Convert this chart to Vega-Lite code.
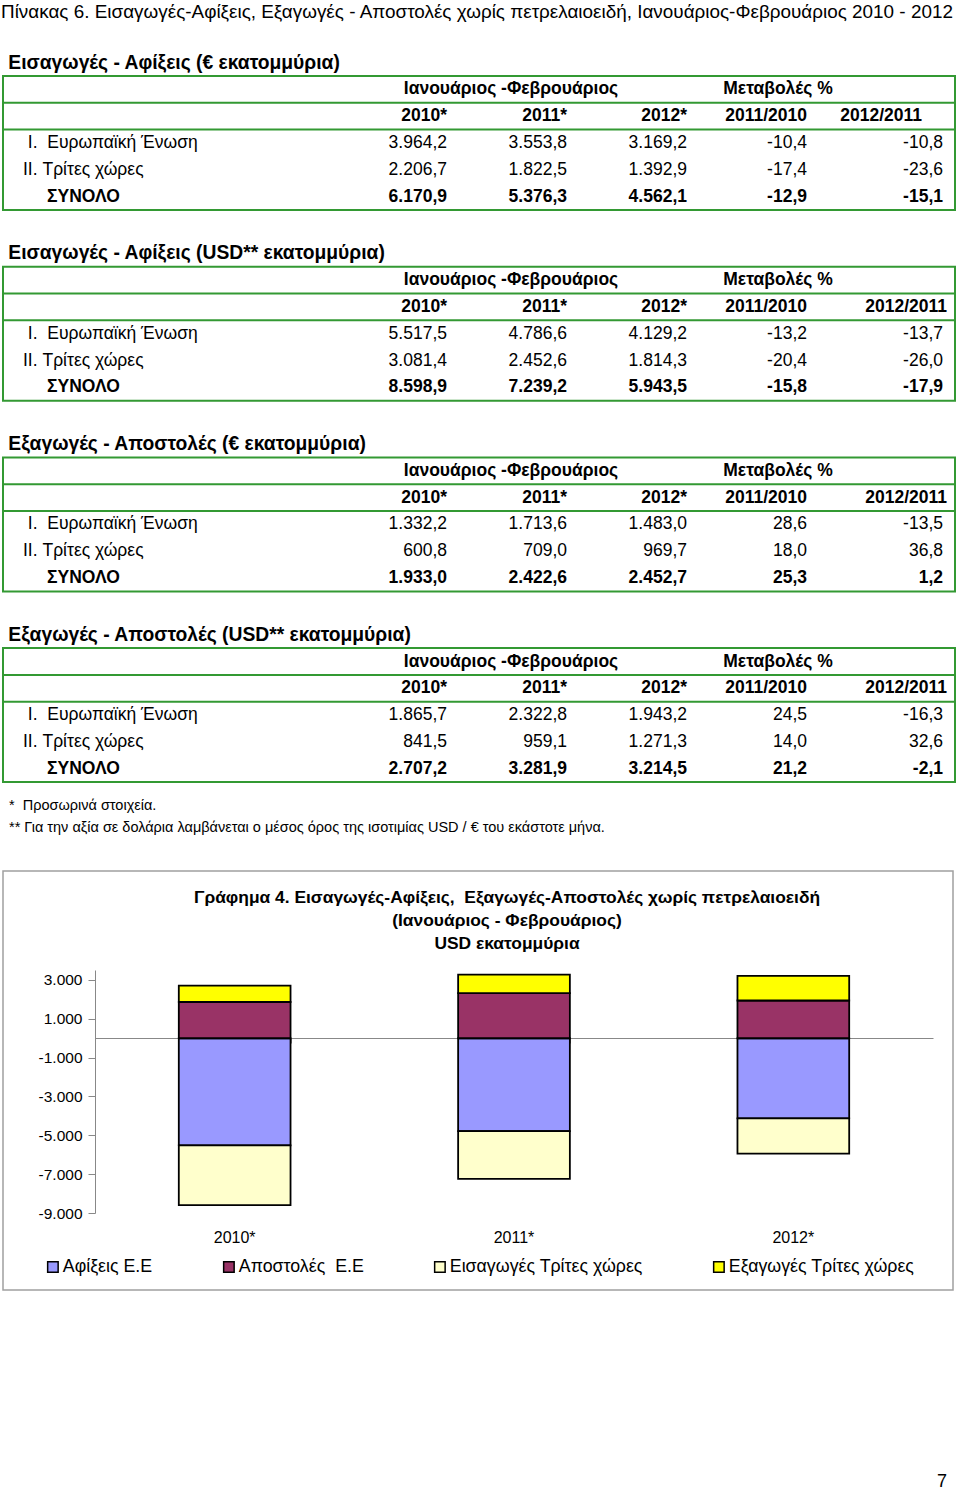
{
  "$schema": "https://vega.github.io/schema/vega-lite/v6.json",
  "padding": {"left": 1, "top": 2, "right": 0, "bottom": 0},
  "background": "white",
  "title": {"text": "Πίνακας 6. Εισαγωγές-Αφίξεις, Εξαγωγές - Αποστολές χωρίς πετρελαιοειδή, Ιανουάριος-Φεβρουάριος 2010 - 2012", "anchor": "start", "fontSize": 18.9, "fontWeight": "normal", "font": "Liberation Sans", "color": "black", "offset": 31},
  "datasets": {
    "tbl": [
      {"s": "\u200b\u00a0Εισαγωγές - Αφίξεις (€ εκατομμύρια)", "k": "rule", "r": "h2"},
      {"s": "\u200b\u00a0Εισαγωγές - Αφίξεις (€ εκατομμύρια)", "k": "rule", "r": "eu"},
      {"s": "\u200b\u00a0Εισαγωγές - Αφίξεις (€ εκατομμύρια)", "k": "h1", "r": "h1", "c": "c2011", "txt": "Ιανουάριος -Φεβρουάριος"},
      {"s": "\u200b\u00a0Εισαγωγές - Αφίξεις (€ εκατομμύρια)", "k": "h1", "r": "h1", "c": "ch1", "txt": "Μεταβολές %"},
      {"s": "\u200b\u00a0Εισαγωγές - Αφίξεις (€ εκατομμύρια)", "k": "h2", "r": "h2", "c": "c2010", "txt": "2010*"},
      {"s": "\u200b\u00a0Εισαγωγές - Αφίξεις (€ εκατομμύρια)", "k": "h2", "r": "h2", "c": "c2011", "txt": "2011*"},
      {"s": "\u200b\u00a0Εισαγωγές - Αφίξεις (€ εκατομμύρια)", "k": "h2", "r": "h2", "c": "c2012", "txt": "2012*"},
      {"s": "\u200b\u00a0Εισαγωγές - Αφίξεις (€ εκατομμύρια)", "k": "h2", "r": "h2", "c": "ch1", "txt": "2011/2010"},
      {"s": "\u200b\u00a0Εισαγωγές - Αφίξεις (€ εκατομμύρια)", "k": "h2", "r": "h2", "c": "ch2", "txt": "2012/2011"},
      {"s": "\u200b\u00a0Εισαγωγές - Αφίξεις (€ εκατομμύρια)", "k": "lab", "r": "eu", "txt": "\u200b\u00a0I.\u00a0 Ευρωπαϊκή Ένωση"},
      {"s": "\u200b\u00a0Εισαγωγές - Αφίξεις (€ εκατομμύρια)", "k": "lab", "r": "tc", "txt": "II. Τρίτες χώρες"},
      {"s": "\u200b\u00a0Εισαγωγές - Αφίξεις (€ εκατομμύρια)", "k": "lab", "r": "tot", "txt": "ΣΥΝΟΛΟ"},
      {"s": "\u200b\u00a0Εισαγωγές - Αφίξεις (€ εκατομμύρια)", "k": "v", "r": "eu", "c": "c2010", "v": 3964.2},
      {"s": "\u200b\u00a0Εισαγωγές - Αφίξεις (€ εκατομμύρια)", "k": "v", "r": "eu", "c": "c2011", "v": 3553.8},
      {"s": "\u200b\u00a0Εισαγωγές - Αφίξεις (€ εκατομμύρια)", "k": "v", "r": "eu", "c": "c2012", "v": 3169.2},
      {"s": "\u200b\u00a0Εισαγωγές - Αφίξεις (€ εκατομμύρια)", "k": "v", "r": "eu", "c": "ch1", "v": -10.4},
      {"s": "\u200b\u00a0Εισαγωγές - Αφίξεις (€ εκατομμύρια)", "k": "v", "r": "eu", "c": "ch2", "v": -10.8},
      {"s": "\u200b\u00a0Εισαγωγές - Αφίξεις (€ εκατομμύρια)", "k": "v", "r": "tc", "c": "c2010", "v": 2206.7},
      {"s": "\u200b\u00a0Εισαγωγές - Αφίξεις (€ εκατομμύρια)", "k": "v", "r": "tc", "c": "c2011", "v": 1822.5},
      {"s": "\u200b\u00a0Εισαγωγές - Αφίξεις (€ εκατομμύρια)", "k": "v", "r": "tc", "c": "c2012", "v": 1392.9},
      {"s": "\u200b\u00a0Εισαγωγές - Αφίξεις (€ εκατομμύρια)", "k": "v", "r": "tc", "c": "ch1", "v": -17.4},
      {"s": "\u200b\u00a0Εισαγωγές - Αφίξεις (€ εκατομμύρια)", "k": "v", "r": "tc", "c": "ch2", "v": -23.6},
      {"s": "\u200b\u00a0Εισαγωγές - Αφίξεις (€ εκατομμύρια)", "k": "v", "r": "tot", "c": "c2010", "v": 6170.9},
      {"s": "\u200b\u00a0Εισαγωγές - Αφίξεις (€ εκατομμύρια)", "k": "v", "r": "tot", "c": "c2011", "v": 5376.3},
      {"s": "\u200b\u00a0Εισαγωγές - Αφίξεις (€ εκατομμύρια)", "k": "v", "r": "tot", "c": "c2012", "v": 4562.1},
      {"s": "\u200b\u00a0Εισαγωγές - Αφίξεις (€ εκατομμύρια)", "k": "v", "r": "tot", "c": "ch1", "v": -12.9},
      {"s": "\u200b\u00a0Εισαγωγές - Αφίξεις (€ εκατομμύρια)", "k": "v", "r": "tot", "c": "ch2", "v": -15.1},

      {"s": "\u200b\u00a0Εισαγωγές - Αφίξεις (USD** εκατομμύρια)", "k": "rule", "r": "h2"},
      {"s": "\u200b\u00a0Εισαγωγές - Αφίξεις (USD** εκατομμύρια)", "k": "rule", "r": "eu"},
      {"s": "\u200b\u00a0Εισαγωγές - Αφίξεις (USD** εκατομμύρια)", "k": "h1", "r": "h1", "c": "c2011", "txt": "Ιανουάριος -Φεβρουάριος"},
      {"s": "\u200b\u00a0Εισαγωγές - Αφίξεις (USD** εκατομμύρια)", "k": "h1", "r": "h1", "c": "ch1", "txt": "Μεταβολές %"},
      {"s": "\u200b\u00a0Εισαγωγές - Αφίξεις (USD** εκατομμύρια)", "k": "h2", "r": "h2", "c": "c2010", "txt": "2010*"},
      {"s": "\u200b\u00a0Εισαγωγές - Αφίξεις (USD** εκατομμύρια)", "k": "h2", "r": "h2", "c": "c2011", "txt": "2011*"},
      {"s": "\u200b\u00a0Εισαγωγές - Αφίξεις (USD** εκατομμύρια)", "k": "h2", "r": "h2", "c": "c2012", "txt": "2012*"},
      {"s": "\u200b\u00a0Εισαγωγές - Αφίξεις (USD** εκατομμύρια)", "k": "h2", "r": "h2", "c": "ch1", "txt": "2011/2010"},
      {"s": "\u200b\u00a0Εισαγωγές - Αφίξεις (USD** εκατομμύρια)", "k": "h2", "r": "h2", "c": "ch2", "txt": "2012/2011"},
      {"s": "\u200b\u00a0Εισαγωγές - Αφίξεις (USD** εκατομμύρια)", "k": "lab", "r": "eu", "txt": "\u200b\u00a0I.\u00a0 Ευρωπαϊκή Ένωση"},
      {"s": "\u200b\u00a0Εισαγωγές - Αφίξεις (USD** εκατομμύρια)", "k": "lab", "r": "tc", "txt": "II. Τρίτες χώρες"},
      {"s": "\u200b\u00a0Εισαγωγές - Αφίξεις (USD** εκατομμύρια)", "k": "lab", "r": "tot", "txt": "ΣΥΝΟΛΟ"},
      {"s": "\u200b\u00a0Εισαγωγές - Αφίξεις (USD** εκατομμύρια)", "k": "v", "r": "eu", "c": "c2010", "v": 5517.5},
      {"s": "\u200b\u00a0Εισαγωγές - Αφίξεις (USD** εκατομμύρια)", "k": "v", "r": "eu", "c": "c2011", "v": 4786.6},
      {"s": "\u200b\u00a0Εισαγωγές - Αφίξεις (USD** εκατομμύρια)", "k": "v", "r": "eu", "c": "c2012", "v": 4129.2},
      {"s": "\u200b\u00a0Εισαγωγές - Αφίξεις (USD** εκατομμύρια)", "k": "v", "r": "eu", "c": "ch1", "v": -13.2},
      {"s": "\u200b\u00a0Εισαγωγές - Αφίξεις (USD** εκατομμύρια)", "k": "v", "r": "eu", "c": "ch2", "v": -13.7},
      {"s": "\u200b\u00a0Εισαγωγές - Αφίξεις (USD** εκατομμύρια)", "k": "v", "r": "tc", "c": "c2010", "v": 3081.4},
      {"s": "\u200b\u00a0Εισαγωγές - Αφίξεις (USD** εκατομμύρια)", "k": "v", "r": "tc", "c": "c2011", "v": 2452.6},
      {"s": "\u200b\u00a0Εισαγωγές - Αφίξεις (USD** εκατομμύρια)", "k": "v", "r": "tc", "c": "c2012", "v": 1814.3},
      {"s": "\u200b\u00a0Εισαγωγές - Αφίξεις (USD** εκατομμύρια)", "k": "v", "r": "tc", "c": "ch1", "v": -20.4},
      {"s": "\u200b\u00a0Εισαγωγές - Αφίξεις (USD** εκατομμύρια)", "k": "v", "r": "tc", "c": "ch2", "v": -26.0},
      {"s": "\u200b\u00a0Εισαγωγές - Αφίξεις (USD** εκατομμύρια)", "k": "v", "r": "tot", "c": "c2010", "v": 8598.9},
      {"s": "\u200b\u00a0Εισαγωγές - Αφίξεις (USD** εκατομμύρια)", "k": "v", "r": "tot", "c": "c2011", "v": 7239.2},
      {"s": "\u200b\u00a0Εισαγωγές - Αφίξεις (USD** εκατομμύρια)", "k": "v", "r": "tot", "c": "c2012", "v": 5943.5},
      {"s": "\u200b\u00a0Εισαγωγές - Αφίξεις (USD** εκατομμύρια)", "k": "v", "r": "tot", "c": "ch1", "v": -15.8},
      {"s": "\u200b\u00a0Εισαγωγές - Αφίξεις (USD** εκατομμύρια)", "k": "v", "r": "tot", "c": "ch2", "v": -17.9},

      {"s": "\u200b\u00a0Εξαγωγές - Αποστολές (€ εκατομμύρια)", "k": "rule", "r": "h2"},
      {"s": "\u200b\u00a0Εξαγωγές - Αποστολές (€ εκατομμύρια)", "k": "rule", "r": "eu"},
      {"s": "\u200b\u00a0Εξαγωγές - Αποστολές (€ εκατομμύρια)", "k": "h1", "r": "h1", "c": "c2011", "txt": "Ιανουάριος -Φεβρουάριος"},
      {"s": "\u200b\u00a0Εξαγωγές - Αποστολές (€ εκατομμύρια)", "k": "h1", "r": "h1", "c": "ch1", "txt": "Μεταβολές %"},
      {"s": "\u200b\u00a0Εξαγωγές - Αποστολές (€ εκατομμύρια)", "k": "h2", "r": "h2", "c": "c2010", "txt": "2010*"},
      {"s": "\u200b\u00a0Εξαγωγές - Αποστολές (€ εκατομμύρια)", "k": "h2", "r": "h2", "c": "c2011", "txt": "2011*"},
      {"s": "\u200b\u00a0Εξαγωγές - Αποστολές (€ εκατομμύρια)", "k": "h2", "r": "h2", "c": "c2012", "txt": "2012*"},
      {"s": "\u200b\u00a0Εξαγωγές - Αποστολές (€ εκατομμύρια)", "k": "h2", "r": "h2", "c": "ch1", "txt": "2011/2010"},
      {"s": "\u200b\u00a0Εξαγωγές - Αποστολές (€ εκατομμύρια)", "k": "h2", "r": "h2", "c": "ch2", "txt": "2012/2011"},
      {"s": "\u200b\u00a0Εξαγωγές - Αποστολές (€ εκατομμύρια)", "k": "lab", "r": "eu", "txt": "\u200b\u00a0I.\u00a0 Ευρωπαϊκή Ένωση"},
      {"s": "\u200b\u00a0Εξαγωγές - Αποστολές (€ εκατομμύρια)", "k": "lab", "r": "tc", "txt": "II. Τρίτες χώρες"},
      {"s": "\u200b\u00a0Εξαγωγές - Αποστολές (€ εκατομμύρια)", "k": "lab", "r": "tot", "txt": "ΣΥΝΟΛΟ"},
      {"s": "\u200b\u00a0Εξαγωγές - Αποστολές (€ εκατομμύρια)", "k": "v", "r": "eu", "c": "c2010", "v": 1332.2},
      {"s": "\u200b\u00a0Εξαγωγές - Αποστολές (€ εκατομμύρια)", "k": "v", "r": "eu", "c": "c2011", "v": 1713.6},
      {"s": "\u200b\u00a0Εξαγωγές - Αποστολές (€ εκατομμύρια)", "k": "v", "r": "eu", "c": "c2012", "v": 1483.0},
      {"s": "\u200b\u00a0Εξαγωγές - Αποστολές (€ εκατομμύρια)", "k": "v", "r": "eu", "c": "ch1", "v": 28.6},
      {"s": "\u200b\u00a0Εξαγωγές - Αποστολές (€ εκατομμύρια)", "k": "v", "r": "eu", "c": "ch2", "v": -13.5},
      {"s": "\u200b\u00a0Εξαγωγές - Αποστολές (€ εκατομμύρια)", "k": "v", "r": "tc", "c": "c2010", "v": 600.8},
      {"s": "\u200b\u00a0Εξαγωγές - Αποστολές (€ εκατομμύρια)", "k": "v", "r": "tc", "c": "c2011", "v": 709.0},
      {"s": "\u200b\u00a0Εξαγωγές - Αποστολές (€ εκατομμύρια)", "k": "v", "r": "tc", "c": "c2012", "v": 969.7},
      {"s": "\u200b\u00a0Εξαγωγές - Αποστολές (€ εκατομμύρια)", "k": "v", "r": "tc", "c": "ch1", "v": 18.0},
      {"s": "\u200b\u00a0Εξαγωγές - Αποστολές (€ εκατομμύρια)", "k": "v", "r": "tc", "c": "ch2", "v": 36.8},
      {"s": "\u200b\u00a0Εξαγωγές - Αποστολές (€ εκατομμύρια)", "k": "v", "r": "tot", "c": "c2010", "v": 1933.0},
      {"s": "\u200b\u00a0Εξαγωγές - Αποστολές (€ εκατομμύρια)", "k": "v", "r": "tot", "c": "c2011", "v": 2422.6},
      {"s": "\u200b\u00a0Εξαγωγές - Αποστολές (€ εκατομμύρια)", "k": "v", "r": "tot", "c": "c2012", "v": 2452.7},
      {"s": "\u200b\u00a0Εξαγωγές - Αποστολές (€ εκατομμύρια)", "k": "v", "r": "tot", "c": "ch1", "v": 25.3},
      {"s": "\u200b\u00a0Εξαγωγές - Αποστολές (€ εκατομμύρια)", "k": "v", "r": "tot", "c": "ch2", "v": 1.2},

      {"s": "\u200b\u00a0Εξαγωγές - Αποστολές (USD** εκατομμύρια)", "k": "rule", "r": "h2"},
      {"s": "\u200b\u00a0Εξαγωγές - Αποστολές (USD** εκατομμύρια)", "k": "rule", "r": "eu"},
      {"s": "\u200b\u00a0Εξαγωγές - Αποστολές (USD** εκατομμύρια)", "k": "h1", "r": "h1", "c": "c2011", "txt": "Ιανουάριος -Φεβρουάριος"},
      {"s": "\u200b\u00a0Εξαγωγές - Αποστολές (USD** εκατομμύρια)", "k": "h1", "r": "h1", "c": "ch1", "txt": "Μεταβολές %"},
      {"s": "\u200b\u00a0Εξαγωγές - Αποστολές (USD** εκατομμύρια)", "k": "h2", "r": "h2", "c": "c2010", "txt": "2010*"},
      {"s": "\u200b\u00a0Εξαγωγές - Αποστολές (USD** εκατομμύρια)", "k": "h2", "r": "h2", "c": "c2011", "txt": "2011*"},
      {"s": "\u200b\u00a0Εξαγωγές - Αποστολές (USD** εκατομμύρια)", "k": "h2", "r": "h2", "c": "c2012", "txt": "2012*"},
      {"s": "\u200b\u00a0Εξαγωγές - Αποστολές (USD** εκατομμύρια)", "k": "h2", "r": "h2", "c": "ch1", "txt": "2011/2010"},
      {"s": "\u200b\u00a0Εξαγωγές - Αποστολές (USD** εκατομμύρια)", "k": "h2", "r": "h2", "c": "ch2", "txt": "2012/2011"},
      {"s": "\u200b\u00a0Εξαγωγές - Αποστολές (USD** εκατομμύρια)", "k": "lab", "r": "eu", "txt": "\u200b\u00a0I.\u00a0 Ευρωπαϊκή Ένωση"},
      {"s": "\u200b\u00a0Εξαγωγές - Αποστολές (USD** εκατομμύρια)", "k": "lab", "r": "tc", "txt": "II. Τρίτες χώρες"},
      {"s": "\u200b\u00a0Εξαγωγές - Αποστολές (USD** εκατομμύρια)", "k": "lab", "r": "tot", "txt": "ΣΥΝΟΛΟ"},
      {"s": "\u200b\u00a0Εξαγωγές - Αποστολές (USD** εκατομμύρια)", "k": "v", "r": "eu", "c": "c2010", "v": 1865.7},
      {"s": "\u200b\u00a0Εξαγωγές - Αποστολές (USD** εκατομμύρια)", "k": "v", "r": "eu", "c": "c2011", "v": 2322.8},
      {"s": "\u200b\u00a0Εξαγωγές - Αποστολές (USD** εκατομμύρια)", "k": "v", "r": "eu", "c": "c2012", "v": 1943.2},
      {"s": "\u200b\u00a0Εξαγωγές - Αποστολές (USD** εκατομμύρια)", "k": "v", "r": "eu", "c": "ch1", "v": 24.5},
      {"s": "\u200b\u00a0Εξαγωγές - Αποστολές (USD** εκατομμύρια)", "k": "v", "r": "eu", "c": "ch2", "v": -16.3},
      {"s": "\u200b\u00a0Εξαγωγές - Αποστολές (USD** εκατομμύρια)", "k": "v", "r": "tc", "c": "c2010", "v": 841.5},
      {"s": "\u200b\u00a0Εξαγωγές - Αποστολές (USD** εκατομμύρια)", "k": "v", "r": "tc", "c": "c2011", "v": 959.1},
      {"s": "\u200b\u00a0Εξαγωγές - Αποστολές (USD** εκατομμύρια)", "k": "v", "r": "tc", "c": "c2012", "v": 1271.3},
      {"s": "\u200b\u00a0Εξαγωγές - Αποστολές (USD** εκατομμύρια)", "k": "v", "r": "tc", "c": "ch1", "v": 14.0},
      {"s": "\u200b\u00a0Εξαγωγές - Αποστολές (USD** εκατομμύρια)", "k": "v", "r": "tc", "c": "ch2", "v": 32.6},
      {"s": "\u200b\u00a0Εξαγωγές - Αποστολές (USD** εκατομμύρια)", "k": "v", "r": "tot", "c": "c2010", "v": 2707.2},
      {"s": "\u200b\u00a0Εξαγωγές - Αποστολές (USD** εκατομμύρια)", "k": "v", "r": "tot", "c": "c2011", "v": 3281.9},
      {"s": "\u200b\u00a0Εξαγωγές - Αποστολές (USD** εκατομμύρια)", "k": "v", "r": "tot", "c": "c2012", "v": 3214.5},
      {"s": "\u200b\u00a0Εξαγωγές - Αποστολές (USD** εκατομμύρια)", "k": "v", "r": "tot", "c": "ch1", "v": 21.2},
      {"s": "\u200b\u00a0Εξαγωγές - Αποστολές (USD** εκατομμύρια)", "k": "v", "r": "tot", "c": "ch2", "v": -2.1}
    ],
    "chart": [
      {"year": "2010*", "series": "Αφίξεις Ε.Ε", "ord": 1, "value": -5517.5},
      {"year": "2010*", "series": "Αποστολές\u00a0 Ε.Ε", "ord": 2, "value": 1865.7},
      {"year": "2010*", "series": "Εισαγωγές Τρίτες χώρες", "ord": 3, "value": -3081.4},
      {"year": "2010*", "series": "Εξαγωγές Τρίτες χώρες", "ord": 4, "value": 841.5},
      {"year": "2011*", "series": "Αφίξεις Ε.Ε", "ord": 1, "value": -4786.6},
      {"year": "2011*", "series": "Αποστολές\u00a0 Ε.Ε", "ord": 2, "value": 2322.8},
      {"year": "2011*", "series": "Εισαγωγές Τρίτες χώρες", "ord": 3, "value": -2452.6},
      {"year": "2011*", "series": "Εξαγωγές Τρίτες χώρες", "ord": 4, "value": 959.1},
      {"year": "2012*", "series": "Αφίξεις Ε.Ε", "ord": 1, "value": -4129.2},
      {"year": "2012*", "series": "Αποστολές\u00a0 Ε.Ε", "ord": 2, "value": 1943.2},
      {"year": "2012*", "series": "Εισαγωγές Τρίτες χώρες", "ord": 3, "value": -1814.3},
      {"year": "2012*", "series": "Εξαγωγές Τρίτες χώρες", "ord": 4, "value": 1271.3}
    ]
  },
  "spacing": 31,
  "resolve": {"scale": {"color": "independent"}, "legend": {"color": "independent"}},
  "vconcat": [
    {
      "spacing": 11,
      "vconcat": [
        {
          "data": {"name": "tbl"},
          "columns": 1,
          "spacing": 31.7,
          "facet": {
            "field": "s", "type": "nominal",
            "sort": ["\u200b\u00a0Εισαγωγές - Αφίξεις (€ εκατομμύρια)", "\u200b\u00a0Εισαγωγές - Αφίξεις (USD** εκατομμύρια)", "\u200b\u00a0Εξαγωγές - Αποστολές (€ εκατομμύρια)", "\u200b\u00a0Εξαγωγές - Αποστολές (USD** εκατομμύρια)"],
            "header": {"title": null, "labelOrient": "top", "labelAnchor": "start", "labelAlign": "left", "labelFont": "Liberation Sans", "labelFontSize": 19.3, "labelFontWeight": "bold", "labelColor": "black", "labelPadding": 3}
          },
          "spec": {
            "width": 952,
            "height": 134,
            "encoding": {
              "y": {"field": "r", "type": "nominal", "scale": {"domain": ["h1", "h2", "eu", "tc", "tot"], "paddingInner": 0, "paddingOuter": 0}, "axis": null}
            },
            "layer": [
              {"transform": [{"filter": "datum.k == 'rule'"}], "mark": {"type": "rule", "color": "#339933", "strokeWidth": 2}, "encoding": {"y": {"field": "r", "type": "nominal", "bandPosition": 0}}},
              {
                "encoding": {
                  "x": {"field": "c", "type": "nominal", "scale": {"type": "point", "domain": ["c2010", "c2011", "c2012", "ch1", "ch2"], "range": [444, 924], "padding": 0}, "axis": null},
                  "text": {"field": "txt", "type": "nominal"}
                },
                "layer": [
                  {"transform": [{"filter": "datum.k == 'h1' && datum.c == 'c2011'"}], "mark": {"type": "text", "fontWeight": "bold", "align": "center", "baseline": "middle", "dx": -56}},
                  {"transform": [{"filter": "datum.k == 'h1' && datum.c == 'ch1'"}], "mark": {"type": "text", "fontWeight": "bold", "align": "center", "baseline": "middle", "dx": -29}},
                  {"transform": [{"filter": "datum.k == 'h2' && datum.c != 'ch2'"}], "mark": {"type": "text", "fontWeight": "bold", "align": "right", "baseline": "middle"}},
                  {"transform": [{"filter": "datum.k == 'h2' && datum.c == 'ch2' && indexof(datum.s, 'Αφίξεις (€') >= 0"}], "mark": {"type": "text", "fontWeight": "bold", "align": "right", "baseline": "middle", "dx": -5}},
                  {"transform": [{"filter": "datum.k == 'h2' && datum.c == 'ch2' && indexof(datum.s, 'Αφίξεις (€') < 0"}], "mark": {"type": "text", "fontWeight": "bold", "align": "right", "baseline": "middle", "dx": 20}},
                  {"transform": [{"filter": "datum.k == 'v' && datum.r != 'tot' && datum.c != 'ch2'"}], "mark": {"type": "text", "align": "right", "baseline": "middle"}, "encoding": {"text": {"field": "v", "type": "quantitative", "format": ",.1f"}}},
                  {"transform": [{"filter": "datum.k == 'v' && datum.r != 'tot' && datum.c == 'ch2'"}], "mark": {"type": "text", "align": "right", "baseline": "middle", "dx": 16}, "encoding": {"text": {"field": "v", "type": "quantitative", "format": ",.1f"}}},
                  {"transform": [{"filter": "datum.k == 'v' && datum.r == 'tot' && datum.c != 'ch2'"}], "mark": {"type": "text", "fontWeight": "bold", "align": "right", "baseline": "middle"}, "encoding": {"text": {"field": "v", "type": "quantitative", "format": ",.1f"}}},
                  {"transform": [{"filter": "datum.k == 'v' && datum.r == 'tot' && datum.c == 'ch2'"}], "mark": {"type": "text", "fontWeight": "bold", "align": "right", "baseline": "middle", "dx": 16}, "encoding": {"text": {"field": "v", "type": "quantitative", "format": ",.1f"}}},
                  {"transform": [{"filter": "datum.k == 'lab' && datum.r != 'tot'"}], "mark": {"type": "text", "align": "left", "baseline": "middle", "dx": -424}, "encoding": {"x": {"datum": "c2010", "type": "nominal"}}},
                  {"transform": [{"filter": "datum.k == 'lab' && datum.r == 'tot'"}], "mark": {"type": "text", "fontWeight": "bold", "align": "left", "baseline": "middle", "dx": -400}, "encoding": {"x": {"datum": "c2010", "type": "nominal"}}}
                ]
              }
            ]
          }
        },
        {
          "width": 952,
          "height": 44,
          "view": {"stroke": null},
          "data": {"values": [
            {"n": "n1", "txt": "*\u00a0 Προσωρινά στοιχεία."},
            {"n": "n2", "txt": "** Για την αξία σε δολάρια λαμβάνεται ο μέσος όρος της ισοτιμίας USD / € του εκάστοτε μήνα."}
          ]},
          "mark": {"type": "text", "align": "left", "baseline": "middle", "dx": 6, "font": "Liberation Sans", "fontSize": 14.5, "color": "black"},
          "encoding": {
            "text": {"field": "txt", "type": "nominal"},
            "x": {"datum": 0, "type": "quantitative", "scale": {"domain": [0, 1]}, "axis": null},
            "y": {"field": "n", "type": "nominal", "axis": null, "scale": {"paddingInner": 0, "paddingOuter": 0}}
          }
        }
      ]
    },
    {
      "width": 950,
      "height": 419,
      "view": {"stroke": "#a0a0a0", "strokeWidth": 1.5},
      "data": {"name": "chart"},
      "title": {"text": ["Γράφημα 4. Εισαγωγές-Αφίξεις,\u00a0 Εξαγωγές-Αποστολές χωρίς πετρελαιοειδή", "(Ιανουάριος - Φεβρουάριος)", "USD εκατομμύρια"], "fontSize": 17.4, "fontWeight": "bold", "font": "Liberation Sans", "color": "black", "anchor": "middle", "frame": "group", "baseline": "top", "offset": -81, "lineHeight": 23, "dx": 29},
      "layer": [
        {
          "mark": {"type": "bar", "stroke": "black", "strokeWidth": 1.8},
          "encoding": {
            "x": {"field": "year", "type": "nominal", "sort": ["2010*", "2011*", "2012*"],
                  "scale": {"type": "band", "range": [92, 930], "paddingInner": 0.6, "paddingOuter": 0.3},
                  "axis": {"orient": "bottom", "offset": -77, "domain": false, "ticks": false, "grid": false, "labelAngle": 0, "labelPadding": 16, "labelFontSize": 16, "labelColor": "black", "title": null}},
            "y": {"field": "value", "type": "quantitative", "stack": "zero",
                  "scale": {"domain": [-9000, 3515], "range": [342, 99], "nice": false, "zero": false},
                  "axis": {"values": [3000, 1000, -1000, -3000, -5000, -7000, -9000], "format": ",.0f", "offset": -92, "grid": false, "title": null, "domainColor": "#888888", "tickColor": "#888888", "tickSize": 7, "labelPadding": 6, "labelFontSize": 15.5, "labelColor": "black"}},
            "color": {"field": "series", "type": "nominal",
                      "scale": {"domain": ["Αφίξεις Ε.Ε", "Αποστολές\u00a0 Ε.Ε", "Εισαγωγές Τρίτες χώρες", "Εξαγωγές Τρίτες χώρες"], "range": ["#9999FF", "#993366", "#FFFFCC", "#FFFF00"]},
                      "legend": {"orient": "none", "legendX": 41, "legendY": 387, "direction": "horizontal", "title": null, "symbolType": "square", "symbolSize": 110, "symbolStrokeColor": "black", "symbolStrokeWidth": 1.5, "symbolOpacity": 1, "labelFontSize": 17.8, "labelColor": "black", "labelFont": "Liberation Sans", "labelLimit": 400, "columnPadding": 67, "labelOffset": 1, "padding": 0}},
            "order": {"field": "ord", "type": "quantitative"}
          }
        },
        {
          "mark": {"type": "text", "text": ""},
          "encoding": {
            "x": {"field": "year", "type": "nominal", "sort": ["2010*", "2011*", "2012*"],
                  "axis": {"orient": "bottom", "offset": -252, "labels": false, "domain": true, "domainColor": "#888888", "ticks": true, "tickBand": "extent", "tickSize": 5, "tickColor": "#888888", "grid": false, "title": null}},
            "y": {"datum": 0, "type": "quantitative"}
          }
        }
      ],
      "resolve": {"axis": {"x": "independent"}}
    },
    {
      "width": 944,
      "height": 160,
      "view": {"stroke": null},
      "data": {"values": [{"p": "7"}]},
      "mark": {"type": "text", "align": "right", "baseline": "middle", "fontSize": 18, "color": "black"},
      "encoding": {
        "text": {"field": "p", "type": "nominal"},
        "x": {"datum": 1, "type": "quantitative", "scale": {"domain": [0, 1]}, "axis": null},
        "y": {"datum": 0, "type": "quantitative", "scale": {"domain": [0, 1]}, "axis": null}
      }
    }
  ],
  "config": {
    "font": "Liberation Sans",
    "view": {"stroke": "#339933", "strokeWidth": 2},
    "text": {"font": "Liberation Sans", "fontSize": 17.5, "color": "black"},
    "axis": {"labelFont": "Liberation Sans"},
    "legend": {"labelFont": "Liberation Sans"},
    "locale": {"number": {"decimal": ",", "thousands": ".", "grouping": [3], "currency": ["", " €"], "minus": "-"}}
  }
}
